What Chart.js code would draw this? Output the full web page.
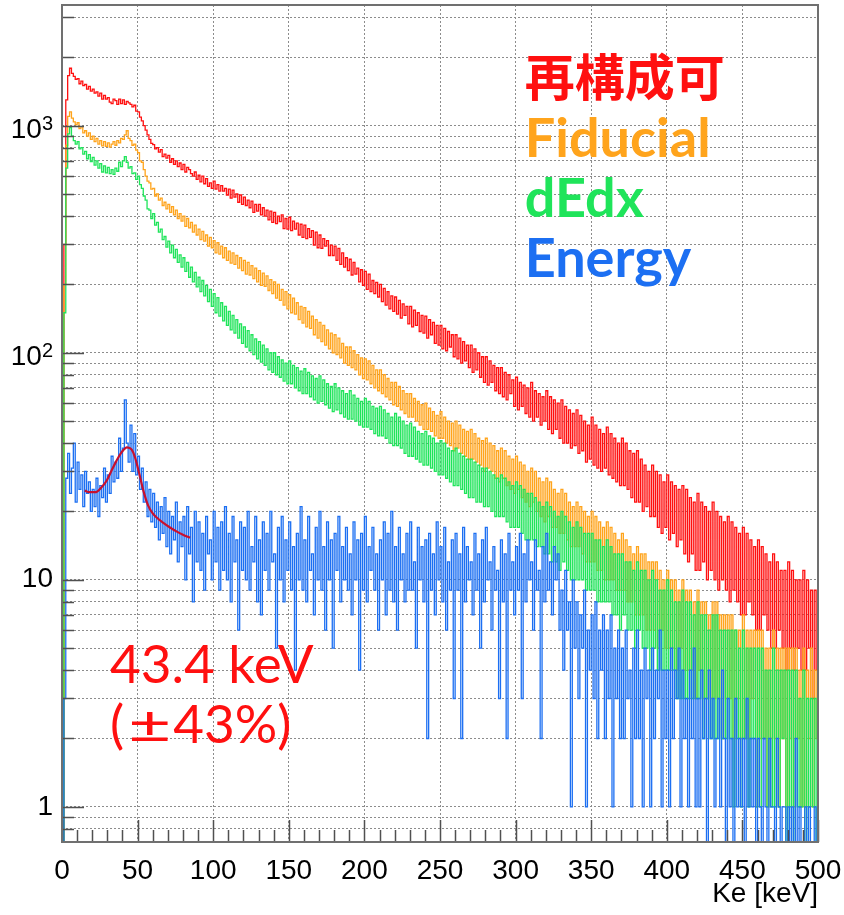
<!DOCTYPE html>
<html>
<head>
<meta charset="utf-8">
<script src="https://cdn.jsdelivr.net/npm/chart.js@4/dist/chart.umd.min.js"></script>
<style>
  html, body { margin: 0; padding: 0; background: #ffffff; }
  #wrap { width: 844px; height: 915px; }
</style>
</head>
<body>
<div id="wrap"><canvas id="c" width="844" height="915"></canvas></div>
<script>
// Electron kinetic energy spectra after each selection step (1.25 keV bins, 0-500 keV)
const BIN_WIDTH = 1.25;

const reconstructable = [
  0, 300, 1300, 1660, 1790, 1700, 1650, 1600,
  1610, 1530, 1570, 1500, 1520, 1450, 1490, 1420,
  1450, 1390, 1410, 1350, 1390, 1310, 1360, 1310,
  1330, 1270, 1250, 1310, 1290, 1240, 1310, 1250,
  1300, 1240, 1280, 1260, 1240, 1210, 1230, 1160,
  1150, 1090, 1050, 1000, 955, 910, 870, 835,
  825, 790, 800, 765, 785, 730, 750, 720,
  740, 690, 715, 675, 700, 660, 685, 640,
  675, 625, 655, 640, 615, 600, 625, 580,
  605, 565, 600, 555, 585, 540, 560, 530,
  570, 525, 550, 515, 545, 515, 530, 495,
  525, 480, 520, 485, 500, 460, 495, 450,
  485, 445, 470, 435, 465, 415, 450, 420,
  450, 405, 435, 400, 425, 385, 420, 375,
  415, 370, 400, 378, 405, 352, 390, 350,
  395, 345, 380, 350, 372, 330, 368, 322,
  365, 318, 352, 322, 345, 298, 340, 290,
  330, 288, 318, 295, 312, 268, 298, 268,
  295, 255, 288, 245, 275, 238, 262, 230,
  258, 220, 250, 222, 236, 205, 232, 198,
  228, 190, 222, 186, 208, 182, 204, 176,
  200, 168, 192, 162, 186, 156, 178, 152,
  176, 148, 170, 142, 164, 146, 160, 134,
  160, 130, 154, 132, 150, 124, 146, 122,
  145, 116, 140, 120, 136, 110, 132, 108,
  132, 104, 128, 102, 124, 106, 120, 96,
  120, 94, 116, 90, 112, 92, 108, 86,
  108, 82, 104, 84, 100, 78, 96, 74,
  96, 72, 92, 74, 88, 68, 86, 66,
  86, 64, 82, 62, 80, 66, 76, 58,
  78, 56, 74, 58, 72, 54, 70, 52,
  74, 50, 68, 52, 66, 48, 64, 50,
  68, 46, 64, 44, 62, 46, 60, 42,
  62, 40, 58, 40, 56, 38, 54, 39,
  56, 36, 53, 37, 50, 33, 48, 34,
  52, 32, 48, 31, 46, 30, 44, 31,
  47, 29, 44, 28, 42, 27, 40, 26,
  42, 26, 40, 25, 37, 23, 36, 22,
  37, 22, 34, 20, 32, 21, 30, 19,
  32, 19, 30, 17, 29, 16, 27, 17,
  29, 15, 27, 16, 26, 14, 25, 15,
  26, 13, 25, 12, 23, 13, 22, 11,
  24, 11, 22, 12, 21, 10, 20, 11,
  22, 10, 20, 9, 19, 10, 18, 9,
  19, 8, 18, 9, 17, 8, 16, 7,
  17, 7, 16, 8, 15, 7, 14, 6,
  15, 6, 14, 7, 13, 6, 12, 5,
  13, 5, 12, 6, 11, 5, 11, 4,
  12, 5, 11, 4, 10, 5, 10, 4,
  11, 4, 10, 5, 9, 3, 9, 4
];

const fiducial = [
  0, 200, 820, 1100, 1150, 1080, 1040, 1010,
  1030, 970, 990, 930, 950, 900, 930, 870,
  900, 850, 880, 830, 860, 815, 850, 810,
  840, 805, 830, 850, 820, 860, 840, 880,
  870, 910, 950, 880, 860, 820, 830, 780,
  760, 700, 690, 640, 600, 570, 560, 525,
  530, 490, 500, 470, 480, 445, 460, 430,
  450, 415, 440, 405, 425, 390, 410, 380,
  400, 360, 390, 355, 375, 340, 365, 330,
  350, 315, 342, 310, 330, 295, 322, 290,
  312, 275, 305, 272, 295, 262, 290, 255,
  280, 248, 275, 245, 268, 236, 262, 230,
  255, 222, 250, 220, 242, 212, 236, 205,
  230, 198, 224, 196, 218, 188, 210, 182,
  205, 174, 200, 170, 190, 162, 186, 156,
  180, 150, 174, 148, 166, 140, 160, 135,
  158, 130, 152, 128, 145, 120, 140, 116,
  136, 112, 132, 108, 126, 104, 122, 100,
  120, 98, 116, 95, 110, 90, 106, 88,
  106, 86, 102, 84, 98, 80, 95, 77,
  94, 76, 92, 73, 88, 70, 84, 68,
  84, 66, 80, 64, 77, 62, 74, 59,
  74, 58, 71, 56, 68, 54, 66, 52,
  66, 52, 63, 50, 61, 48, 59, 46,
  60, 46, 57, 45, 55, 43, 53, 42,
  55, 42, 52, 40, 50, 39, 49, 37,
  50, 38, 48, 36, 46, 35, 45, 34,
  46, 34, 44, 33, 42, 32, 41, 30,
  42, 31, 40, 30, 39, 28, 37, 27,
  38, 28, 37, 26, 35, 25, 34, 24,
  35, 25, 33, 23, 32, 22, 30, 21,
  31, 22, 30, 20, 28, 19, 27, 18,
  28, 19, 27, 17, 25, 17, 24, 16,
  25, 16, 24, 15, 22, 14, 21, 14,
  22, 14, 21, 13, 20, 12, 19, 12,
  20, 12, 19, 11, 18, 11, 17, 10,
  18, 10, 17, 10, 16, 9, 15, 9,
  16, 9, 15, 8, 14, 8, 13, 7,
  14, 7, 13, 7, 13, 6, 12, 6,
  12, 6, 12, 5, 11, 6, 10, 5,
  11, 5, 10, 5, 10, 4, 9, 5,
  10, 4, 9, 4, 9, 4, 8, 3,
  9, 4, 8, 3, 8, 3, 7, 3,
  8, 3, 8, 3, 7, 2, 7, 3,
  7, 3, 7, 2, 6, 3, 6, 2,
  7, 2, 6, 2, 6, 3, 6, 1,
  6, 2, 6, 2, 5, 1, 5, 2,
  6, 2, 5, 1, 5, 2, 5, 1,
  5, 2, 5, 1, 5, 2, 4, 1,
  5, 1, 4, 2, 5, 1, 4, 2
];

const dEdx = [
  0, 150, 650, 920, 980, 900, 860, 830,
  850, 790, 800, 750, 770, 715, 745, 695,
  725, 670, 700, 650, 680, 625, 665, 620,
  655, 615, 640, 610, 650, 630, 690, 660,
  700, 730, 690, 650, 660, 615, 620, 580,
  600, 550, 530, 490, 470, 430, 425, 390,
  410, 365, 375, 340, 350, 315, 325, 292,
  310, 275, 298, 262, 285, 250, 270, 238,
  262, 228, 250, 215, 238, 205, 226, 195,
  215, 186, 208, 178, 198, 168, 190, 160,
  182, 150, 175, 145, 166, 138, 160, 132,
  152, 126, 146, 122, 140, 116, 134, 110,
  130, 106, 125, 102, 120, 98, 115, 94,
  112, 91, 108, 88, 104, 84, 100, 82,
  100, 80, 96, 78, 93, 75, 90, 73,
  92, 73, 88, 70, 86, 68, 83, 66,
  85, 66, 82, 64, 79, 62, 77, 60,
  79, 61, 76, 59, 73, 57, 71, 55,
  73, 56, 70, 54, 68, 52, 66, 51,
  68, 51, 65, 50, 63, 48, 61, 47,
  63, 47, 61, 46, 58, 44, 57, 43,
  58, 43, 56, 42, 54, 40, 52, 39,
  54, 39, 52, 38, 50, 36, 48, 35,
  49, 35, 47, 34, 45, 33, 44, 32,
  45, 32, 43, 31, 42, 30, 40, 29,
  41, 29, 40, 28, 38, 27, 37, 26,
  38, 26, 36, 25, 35, 24, 34, 23,
  34, 23, 33, 22, 32, 22, 31, 21,
  31, 21, 30, 20, 29, 19, 28, 19,
  29, 19, 28, 18, 27, 17, 26, 17,
  27, 17, 26, 16, 25, 15, 24, 15,
  24, 15, 23, 14, 22, 14, 21, 13,
  22, 13, 21, 12, 20, 12, 19, 11,
  20, 12, 19, 11, 18, 10, 17, 10,
  18, 10, 17, 10, 16, 9, 16, 9,
  16, 9, 15, 8, 15, 8, 14, 8,
  15, 8, 14, 7, 13, 7, 13, 6,
  13, 7, 12, 6, 12, 6, 11, 5,
  12, 6, 11, 5, 11, 5, 10, 4,
  11, 5, 10, 4, 9, 4, 9, 4,
  10, 4, 9, 4, 8, 3, 8, 3,
  9, 3, 8, 3, 8, 3, 7, 3,
  8, 3, 7, 2, 7, 3, 6, 2,
  7, 2, 7, 2, 6, 2, 6, 2,
  6, 2, 6, 1, 6, 2, 5, 1,
  6, 2, 5, 1, 5, 2, 5, 1,
  5, 1, 5, 2, 4, 1, 4, 1,
  5, 1, 4, 1, 4, 2, 4, 0,
  4, 1, 4, 0, 4, 1, 3, 1,
  4, 0, 3, 1, 3, 1, 3, 0
];

const energy = [
  0, 3, 28, 36, 24, 31, 40, 22,
  33, 25, 29, 21, 30, 24, 27, 20,
  25, 21, 28, 19, 26, 23, 31, 22,
  29, 24, 35, 27, 33, 28, 42, 30,
  38, 62, 40, 33, 48, 30, 44, 29,
  35, 25, 31, 22, 27, 19, 25, 18,
  24, 17, 22, 15, 21, 16, 23, 14,
  20, 13, 19, 15, 22, 12, 18, 14,
  19, 10, 21, 13, 17, 8, 20, 12,
  18, 11, 16, 9, 19, 13, 15, 10,
  20, 12, 17, 9, 18, 11, 21, 10,
  16, 8, 19, 12, 15, 6, 18, 11,
  17, 10, 20, 9, 14, 12, 19, 8,
  15, 7, 18, 11, 16, 9, 20, 12,
  13, 5, 17, 10, 19, 8, 15, 11,
  18, 9, 14, 4, 16, 10, 21, 9,
  15, 8, 19, 11, 13, 7, 17, 10,
  20, 9, 14, 6, 18, 10, 15, 5,
  16, 11, 19, 8, 14, 10, 17, 9,
  13, 7, 18, 10, 15, 4, 16, 9,
  19, 8, 14, 11, 17, 9, 13, 6,
  15, 10, 18, 7, 16, 9, 20, 8,
  14, 6, 17, 10, 13, 8, 16, 9,
  18, 9, 12, 5, 17, 10, 14, 8,
  15, 2, 16, 9, 13, 7, 18, 10,
  14, 8, 17, 6, 12, 9, 15, 3,
  16, 9, 13, 2, 17, 8, 14, 10,
  12, 7, 16, 9, 13, 5, 15, 8,
  17, 10, 12, 6, 14, 9, 11, 3,
  15, 8, 13, 2, 16, 9, 12, 7,
  14, 9, 16, 3, 13, 8, 15, 10,
  12, 6, 15, 9, 11, 2, 14, 8,
  16, 9, 12, 7, 14, 10, 13, 6,
  9, 4, 11, 6, 8, 1, 10, 5,
  8, 3, 7, 5, 9, 1, 6, 4,
  7, 3, 8, 2, 6, 4, 7, 2,
  6, 3, 7, 1, 5, 3, 6, 2,
  5, 2, 6, 3, 4, 1, 5, 2,
  6, 2, 4, 1, 5, 3, 4, 1,
  5, 2, 4, 3, 6, 1, 4, 2,
  4, 1, 5, 2, 4, 3, 5, 1,
  4, 2, 3, 1, 4, 2, 5, 1,
  3, 1, 4, 2, 3, 0, 4, 2,
  3, 1, 2, 3, 1, 4, 2, 0,
  3, 1, 2, 0, 3, 1, 2, 1,
  2, 0, 3, 1, 2, 1, 2, 0,
  2, 1, 0, 2, 1, 0, 2, 1,
  1, 0, 2, 1, 0, 1, 1, 0,
  1, 0, 1, 0, 2, 0, 1, 0,
  0, 1, 0, 1, 0, 0, 1, 0
];

// Peak fit on the Energy spectrum (Gaussian on a falling background)
const fitKeV   = [15, 18, 22, 26, 29.5, 33, 36, 39.5, 43, 46, 48.3, 51, 53.8, 57, 60, 62.6, 67, 71.4, 76, 80, 84.7];
const fitCount = [24.7, 24.3, 24.3, 25.5, 27.3, 30.5, 33.4, 36.5, 38.3, 37.5, 34.6, 29.5, 24.7, 21.2, 19.6, 18.8, 17.8, 17.0, 16.3, 15.8, 15.3];

const xTickValues = [0, 50, 100, 150, 200, 250, 300, 350, 400, 450, 500];
// decade labels: [mantissa text, exponent text]
const yDecadeLabels = { 1: ['1', ''], 10: ['10', ''], 100: ['10', '2'], 1000: ['10', '3'] };
const legendLabels = ['再構成可', 'Fiducial', 'dEdx', 'Energy'];
const peakLabel = '43.4 keV';
const resolutionLabel = ['(', '±', '43%)'];

const X_MIN = 0, X_MAX = 500;
const Y_MIN = 0.7, Y_MAX = 3400;

const COLORS = {
  red: '#ff1010',
  orange: '#ffa41c',
  green: '#1fe45a',
  blue: '#1c6ff2',
  fit: '#c8102e'
};
const AXIS_FONT = '"Liberation Sans", Arial, sans-serif';

// every minor position of the log axis (grid lines drawn at each)
function logGridValues(lo, hi) {
  const out = [];
  for (let e = -1; e <= 4; e++) {
    for (let m = 1; m <= 9; m++) {
      const v = m * Math.pow(10, e);
      if (v >= lo * 1.0001 && v <= hi) out.push(+v.toPrecision(3));
    }
  }
  return out;
}
const yGridValues = logGridValues(Y_MIN, Y_MAX);

// histogram -> stepped points at bin low edges; empty bins sit on the axis floor
function histPoints(values) {
  const pts = values.map((v, i) => ({ x: i * BIN_WIDTH, y: v > 0 ? v : Y_MIN }));
  const last = values[values.length - 1];
  pts.push({ x: values.length * BIN_WIDTH, y: last > 0 ? last : Y_MIN });
  return pts;
}

function histDataset(label, values, color, order) {
  return {
    label,
    data: histPoints(values),
    borderColor: color,
    borderWidth: 1.3,
    stepped: true,
    pointRadius: 0,
    fill: false,
    order
  };
}

const framePlugin = {
  id: 'rootFrame',
  afterDatasetsDraw(chart) {
    const { ctx, chartArea: a, scales } = chart;
    const xs = scales.x, ys = scales.y;
    ctx.save();

    // inward tick marks
    ctx.strokeStyle = '#505050';
    ctx.lineWidth = 1.5;
    ctx.beginPath();
    yGridValues.forEach(v => {
      const py = Math.round(ys.getPixelForValue(v)) + 0.5;
      const len = yDecadeLabels[v] ? 22 : 12;
      ctx.moveTo(a.left, py);
      ctx.lineTo(a.left + len, py);
    });
    for (let v = X_MIN; v <= X_MAX; v += 10) {
      const px = Math.round(xs.getPixelForValue(v)) + 0.5;
      const len = v % 50 === 0 ? 22 : 12;
      ctx.moveTo(px, a.bottom);
      ctx.lineTo(px, a.bottom - len);
    }
    ctx.stroke();

    // frame
    ctx.strokeStyle = '#707070';
    ctx.lineWidth = 2;
    ctx.strokeRect(a.left, a.top, a.right - a.left, a.bottom - a.top);

    // decade labels with raised exponent
    ctx.fillStyle = '#000';
    ctx.textAlign = 'right';
    Object.keys(yDecadeLabels).forEach(k => {
      const [base, exp] = yDecadeLabels[k];
      const py = ys.getPixelForValue(+k);
      let right = a.left - 9;
      if (exp) {
        ctx.font = '20px ' + AXIS_FONT;
        ctx.textBaseline = 'alphabetic';
        ctx.fillText(exp, right, py + 4);
        right -= ctx.measureText(exp).width;
        ctx.font = '28px ' + AXIS_FONT;
        ctx.textBaseline = 'middle';
        ctx.fillText(base, right, py + 5);
      } else {
        ctx.font = '28px ' + AXIS_FONT;
        ctx.textBaseline = 'middle';
        ctx.fillText(base, right, py);
      }
    });

    // position in fractions of the frame, measured from its lower-left corner
    const ndc = (fx, fy) => [a.left + fx * (a.right - a.left), a.bottom - fy * (a.bottom - a.top)];

    ctx.textBaseline = 'alphabetic';
    ctx.textAlign = 'left';

    // legend text
    const legendColors = [COLORS.red, COLORS.orange, COLORS.green, COLORS.blue];
    const legendY = [0.891, 0.818, 0.747, 0.675];
    legendLabels.forEach((t, i) => {
      const [px, py] = ndc(0.612, legendY[i]);
      ctx.fillStyle = legendColors[i];
      ctx.font = i === 0 ? 'bold 50px "Noto Sans CJK JP"' : 'bold 54px Lato, "DejaVu Sans", sans-serif';
      ctx.fillText(t, px, py);
    });

    // peak position and resolution
    ctx.fillStyle = '#ff1010';
    ctx.font = '53px Lato, "DejaVu Sans", sans-serif';
    let [px, py] = ndc(0.0635, 0.19);
    ctx.fillText(peakLabel, px, py);

    [px, py] = ndc(0.0635, 0.118);
    ctx.fillText(resolutionLabel[0], px, py);
    px += ctx.measureText(resolutionLabel[0]).width + 4;
    const pmWidth = ctx.measureText(resolutionLabel[1]).width;
    ctx.save();
    ctx.translate(px, py);
    ctx.scale(1.4, 1);
    ctx.fillText(resolutionLabel[1], 0, 0);
    ctx.restore();
    px += pmWidth * 1.4 + 2;
    ctx.fillText(resolutionLabel[2], px, py);

    ctx.restore();
  }
};

const gridStyle = {
  color: '#8c8c8c',
  lineWidth: 1,
  drawTicks: false
};

new Chart(document.getElementById('c'), {
  type: 'line',
  data: {
    datasets: [
      {
        label: 'fit',
        data: fitKeV.map((x, i) => ({ x, y: fitCount[i] })),
        borderColor: COLORS.fit,
        borderWidth: 2.2,
        pointRadius: 0,
        cubicInterpolationMode: 'monotone',
        fill: false,
        order: 0
      },
      histDataset(legendLabels[3], energy, COLORS.blue, 1),
      histDataset(legendLabels[2], dEdx, COLORS.green, 2),
      histDataset(legendLabels[1], fiducial, COLORS.orange, 3),
      histDataset(legendLabels[0], reconstructable, COLORS.red, 4)
    ]
  },
  options: {
    responsive: false,
    animation: false,
    devicePixelRatio: 1,
    layout: { padding: { top: 5, right: 26, left: 0, bottom: 0 } },
    plugins: { legend: { display: false }, tooltip: { enabled: false } },
    scales: {
      x: {
        type: 'linear',
        min: X_MIN,
        max: X_MAX,
        afterBuildTicks: s => { s.ticks = xTickValues.map(v => ({ value: v })); },
        afterFit: s => { s.height = 73; s.paddingLeft = 0; s.paddingRight = 0; },
        grid: gridStyle,
        border: { display: false, dash: [2, 2] },
        ticks: {
          autoSkip: false,
          maxRotation: 0,
          padding: 12,
          color: '#000',
          font: { family: AXIS_FONT, size: 28 }
        },
        title: {
          display: true,
          text: 'Ke [keV]',
          align: 'end',
          color: '#000',
          padding: { top: 0, bottom: 4 },
          font: { family: AXIS_FONT, size: 28 }
        }
      },
      y: {
        type: 'logarithmic',
        min: Y_MIN,
        max: Y_MAX,
        afterBuildTicks: s => { s.ticks = yGridValues.map(v => ({ value: v })); },
        afterFit: s => { s.width = 62; s.paddingTop = 0; s.paddingBottom = 0; },
        grid: gridStyle,
        border: { display: false, dash: [2, 2] },
        ticks: {
          autoSkip: false,
          padding: 9,
          font: { family: AXIS_FONT, size: 28 },
          callback: () => ''
        }
      }
    }
  },
  plugins: [framePlugin]
});
</script>
</body>
</html>
